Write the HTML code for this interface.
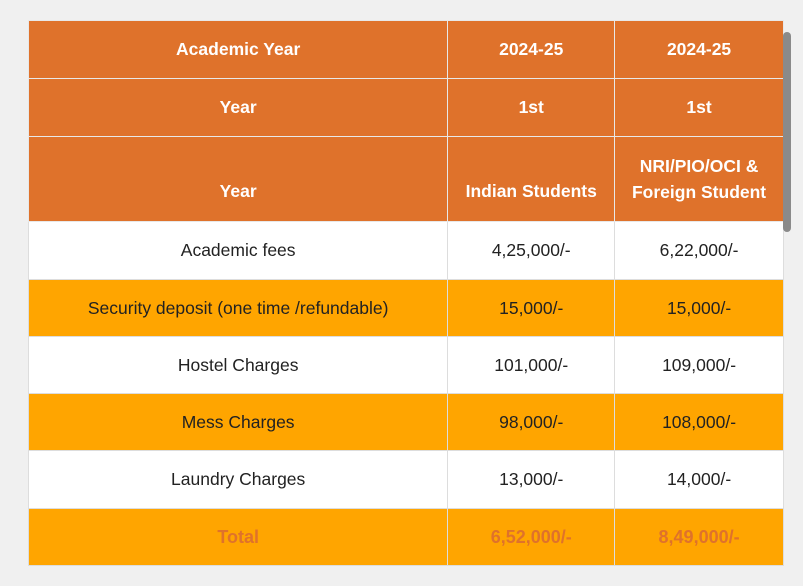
<!DOCTYPE html>
<html><head><style>
body{margin:0;width:803px;height:586px;background:#f0f0f0;font-family:"Liberation Sans",Arial,sans-serif;position:relative;overflow:hidden}
table{position:absolute;left:28px;top:20px;border-collapse:collapse;width:756px}
td{border:1px solid #ddd;text-align:center;font-size:17.5px;color:#222;padding:0}
.h td{background:#df722b;color:#fff;font-weight:bold;border-color:#e8e8e8}
.o td{background:#ffa500}
.w td{background:#fff}
.t td{background:#ffa500;color:#df722b;font-weight:bold;font-size:18px}
.sb{position:absolute;left:783px;top:32px;width:8px;height:200px;background:#8a8a8a;border-radius:4px}
</style></head><body>
<table>
<colgroup><col style="width:420px"><col style="width:167px"><col style="width:169px"></colgroup>
<tr class="h" style="height:58px"><td>Academic Year</td><td>2024-25</td><td>2024-25</td></tr>
<tr class="h" style="height:58px"><td>Year</td><td>1st</td><td>1st</td></tr>
<tr class="h" style="height:85px"><td style="padding-top:24px">Year</td><td style="padding-top:24px">Indian Students</td><td style="line-height:26px">NRI/PIO/OCI &amp;<br>Foreign Student</td></tr>
<tr class="w" style="height:58px"><td>Academic fees</td><td>4,25,000/-</td><td>6,22,000/-</td></tr>
<tr class="o" style="height:57px"><td>Security deposit (one time /refundable)</td><td>15,000/-</td><td>15,000/-</td></tr>
<tr class="w" style="height:57px"><td>Hostel Charges</td><td>101,000/-</td><td>109,000/-</td></tr>
<tr class="o" style="height:57px"><td>Mess Charges</td><td>98,000/-</td><td>108,000/-</td></tr>
<tr class="w" style="height:58px"><td>Laundry Charges</td><td>13,000/-</td><td>14,000/-</td></tr>
<tr class="t" style="height:57px"><td>Total</td><td>6,52,000/-</td><td>8,49,000/-</td></tr>
</table>
<div class="sb"></div>
</body></html>
